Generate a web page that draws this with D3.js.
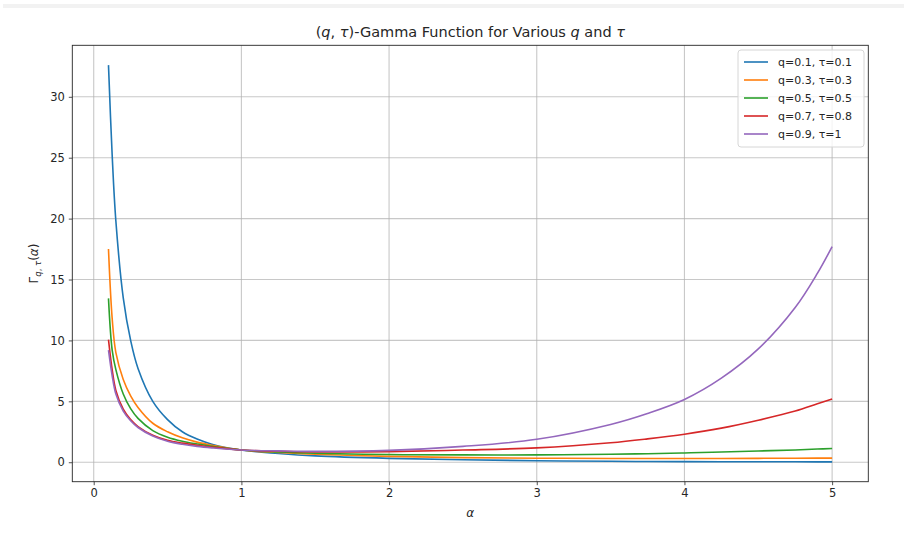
<!DOCTYPE html>
<html>
<head>
<meta charset="utf-8">
<script src="https://d3js.org/d3.v7.min.js"></script>
<style>
  body { margin: 0; background: #fff; }
  text { font-family: "DejaVu Sans", sans-serif; fill: #262626; }
</style>
</head>
<body>
<div id="chart"></div>
<script>
var alphas = [0.1, 0.125, 0.15, 0.2, 0.25, 0.3, 0.4, 0.5, 0.6, 0.7, 0.8, 1, 1.25, 1.5, 2, 2.5, 3, 3.5, 3.75, 4, 4.25, 4.5, 4.75, 4.9, 5];

var gammaQ01 = [32.6, 25.2, 19.8, 13.5, 10, 7.7, 5.0, 3.5, 2.5, 1.9, 1.48, 1, 0.72, 0.52, 0.32, 0.2, 0.12, 0.08, 0.06, 0.05, 0.045, 0.04, 0.035, 0.03, 0.03];
var gammaQ03 = [17.5, 11.8, 9.0, 6.8, 5.45, 4.5, 3.2, 2.5, 2.0, 1.65, 1.4, 1, 0.8, 0.65, 0.48, 0.38, 0.33, 0.31, 0.3, 0.31, 0.31, 0.32, 0.33, 0.34, 0.34];
var gammaQ05 = [13.45, 9.2, 7.6, 5.6, 4.4, 3.6, 2.6, 2.06, 1.73, 1.5, 1.3, 1, 0.84, 0.74, 0.63, 0.6, 0.6, 0.66, 0.7, 0.76, 0.84, 0.92, 1.01, 1.08, 1.13];
var gammaQ07 = [10.07, 7.6, 5.9, 4.35, 3.5, 2.93, 2.22, 1.8, 1.57, 1.4, 1.25, 1, 0.9, 0.85, 0.87, 1.0, 1.18, 1.6, 1.92, 2.3, 2.8, 3.45, 4.2, 4.8, 5.2];
var gammaQ09 = [9.2, 7.1, 5.6, 4.2, 3.4, 2.85, 2.15, 1.72, 1.47, 1.3, 1.18, 1, 0.93, 0.89, 0.97, 1.3, 1.88, 3.1, 4.0, 5.15, 6.9, 9.3, 12.7, 15.5, 17.7];

var seriesNames = ["q=0.1, \u03c4=0.1", "q=0.3, \u03c4=0.3", "q=0.5, \u03c4=0.5", "q=0.7, \u03c4=0.8", "q=0.9, \u03c4=1"];
var seriesValues = [gammaQ01, gammaQ03, gammaQ05, gammaQ07, gammaQ09];
var colors = ["#1f77b4", "#ff7f0e", "#2ca02c", "#d62728", "#9467bd"];

var xTicks = [0, 1, 2, 3, 4, 5];
var yTicks = [0, 5, 10, 15, 20, 25, 30];

var W = 904, H = 534;
var margin = {top: 45.3, right: 35.7, bottom: 52.3, left: 72.3};
var width = W - margin.left - margin.right,
    height = H - margin.top - margin.bottom;

var svg = d3.select("#chart").append("svg")
    .attr("width", W)
    .attr("height", H);

// light band at top of the screenshot
svg.append("rect")
    .attr("x", 3).attr("y", 4).attr("width", W - 3).attr("height", 4)
    .attr("fill", "#f2f2f2");

var g = svg.append("g")
    .attr("transform", "translate(" + margin.left + "," + margin.top + ")");

// matplotlib style 5% padding
var xMin = d3.min(alphas), xMax = d3.max(alphas);
var allY = d3.merge(seriesValues);
var yMin = d3.min(allY), yMax = d3.max(allY);
var xPad = (xMax - xMin) * 0.05, yPad = (yMax - yMin) * 0.05;

var x = d3.scaleLinear().domain([xMin - xPad, xMax + xPad]).range([0, width]);
var y = d3.scaleLinear().domain([yMin - yPad, yMax + yPad]).range([height, 0]);

// grid
g.append("g").selectAll("line").data(xTicks).enter().append("line")
    .attr("x1", function(d) { return x(d); }).attr("x2", function(d) { return x(d); })
    .attr("y1", 0).attr("y2", height)
    .attr("stroke", "#b0b0b0").attr("stroke-opacity", 0.7).attr("stroke-width", 1.1);
g.append("g").selectAll("line").data(yTicks).enter().append("line")
    .attr("y1", function(d) { return y(d); }).attr("y2", function(d) { return y(d); })
    .attr("x1", 0).attr("x2", width)
    .attr("stroke", "#b0b0b0").attr("stroke-opacity", 0.7).attr("stroke-width", 1.1);

// lines
var line = d3.line()
    .x(function(d) { return x(d[0]); })
    .y(function(d) { return y(d[1]); })
    .curve(d3.curveCatmullRom.alpha(0.5));

seriesValues.forEach(function(vals, i) {
  g.append("path")
    .datum(alphas.map(function(a, j) { return [a, vals[j]]; }))
    .attr("fill", "none")
    .attr("stroke", colors[i])
    .attr("stroke-width", 1.6)
    .attr("d", line);
});

// axes
var xAxis = g.append("g")
    .attr("transform", "translate(0," + height + ")")
    .call(d3.axisBottom(x).tickValues(xTicks).tickSize(3.5).tickPadding(4).tickFormat(d3.format("d")));
var yAxis = g.append("g")
    .call(d3.axisLeft(y).tickValues(yTicks).tickSize(3.5).tickPadding(4).tickFormat(d3.format("d")));
[xAxis, yAxis].forEach(function(a) {
  a.select(".domain").remove();
  a.selectAll("text").style("font-size", "11.5px").style("font-family", "DejaVu Sans").attr("fill", "#262626");
  a.selectAll("line").attr("stroke", "#262626").attr("stroke-width", 0.8);
});

// frame
g.append("rect")
    .attr("width", width).attr("height", height)
    .attr("fill", "none").attr("stroke", "#262626").attr("stroke-width", 0.9);

// title
svg.append("text")
    .attr("x", margin.left + width / 2)
    .attr("y", 37)
    .attr("text-anchor", "middle")
    .style("font-size", "14.5px")
    .html('(<tspan font-style="italic">q</tspan>, <tspan font-style="italic">\u03c4</tspan>)-Gamma Function for Various <tspan font-style="italic">q</tspan> and <tspan font-style="italic">\u03c4</tspan>');

// axis labels
svg.append("text")
    .attr("x", margin.left + width / 2)
    .attr("y", 517)
    .attr("text-anchor", "middle")
    .style("font-size", "12px")
    .style("font-style", "italic")
    .text("\u03b1");

svg.append("text")
    .attr("transform", "translate(38," + (margin.top + height / 2) + ") rotate(-90)")
    .attr("text-anchor", "middle")
    .style("font-size", "12px")
    .html('\u0393<tspan font-size="8.5px" dy="3" font-style="italic">q</tspan><tspan font-size="8.5px">, </tspan><tspan font-size="8.5px" font-style="italic">\u03c4</tspan><tspan dy="-3">(</tspan><tspan font-style="italic">\u03b1</tspan>)');

// legend
var legend = svg.append("g").attr("transform", "translate(738,50)");
legend.append("rect")
    .attr("width", 126).attr("height", 97).attr("rx", 3)
    .attr("fill", "#fff").attr("fill-opacity", 0.8)
    .attr("stroke", "#d6d6d6").attr("stroke-width", 1);
seriesNames.forEach(function(name, i) {
  var row = legend.append("g").attr("transform", "translate(0," + (12 + i * 18) + ")");
  row.append("line").attr("x1", 6).attr("x2", 30).attr("y1", 0).attr("y2", 0)
    .attr("stroke", colors[i]).attr("stroke-width", 1.6);
  row.append("text").attr("x", 40).attr("y", 4)
    .style("font-size", "11px").text(name);
});
</script>
</body>
</html>
